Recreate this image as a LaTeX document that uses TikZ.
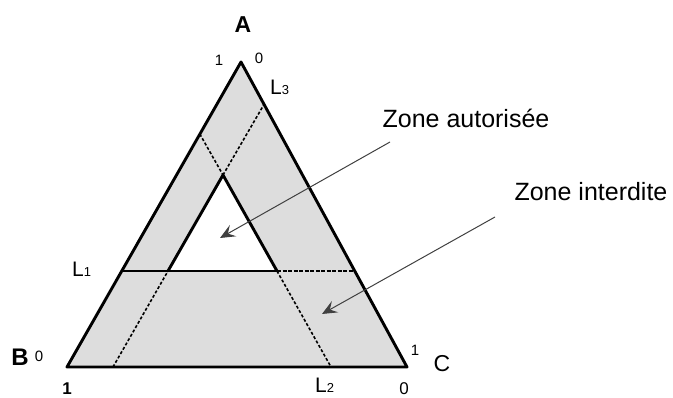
\documentclass[tikz,border=0pt]{standalone}
\usepackage{fontspec}
\setmainfont{Liberation Sans}
\usetikzlibrary{arrows.meta}
\begin{document}
\begin{tikzpicture}[x=1pt,y=-1pt,
  edge/.style={line width=2.9pt, line join=round, line cap=round},
  dashln/.style={line width=1.6pt, dash pattern=on 3pt off 2pt},
  l1dash/.style={line width=2.6pt, dash pattern=on 4pt off 1.5pt},
  pointer/.style={line width=1pt, draw=black!75, -{Stealth[length=15pt,width=13pt,inset=6pt]}},
  zlbl/.style={inner sep=0pt, font=\fontsize{25}{30}\selectfont},
  vlbl/.style={inner sep=0pt, font=\fontsize{23}{28}\selectfont},
  dlbl/.style={inner sep=0pt, font=\fontsize{15}{18}\selectfont},
  llbl/.style={inner sep=0pt, font=\fontsize{21}{24}\selectfont},
]
\useasboundingbox (0,0) rectangle (673,398);
% vertices
\coordinate (A) at (241,62);
\coordinate (B) at (67,367);
\coordinate (C) at (407,367);
\coordinate (P) at (121.8,271);
\coordinate (Q) at (354.8,271);
\coordinate (I) at (223,175);
\coordinate (IL) at (168,271);
\coordinate (IR) at (277,271);
\coordinate (D1b) at (113,367);
\coordinate (D1t) at (264.3,103.9);
\coordinate (D2b) at (331,367);
\coordinate (D2t) at (199.8,134);
% fills
\fill[gray!27] (A) -- (B) -- (C) -- cycle;
\fill[white] (I) -- (IL) -- (IR) -- cycle;
% dashed lines
\draw[dashln] (D1b) -- (IL);
\draw[dashln] (I) -- (D1t);
\draw[dashln] (D2t) -- (I);
\draw[dashln] (IR) -- (D2b);
\draw[l1dash] (IR) -- (Q);
% solid lines
\draw[edge] (A) -- (B) -- (C) -- cycle;
\draw[edge] (P) -- (IR);
\draw[edge] (IL) -- (I) -- (IR);
% labels
\node[vlbl, font=\fontsize{23}{28}\selectfont\bfseries] (la) at (243,25) {A};
\node[vlbl, font=\fontsize{24}{28}\selectfont\bfseries] (lb) at (20,357) {B};
\node[vlbl] (lc) at (442,364) {C};
\node[dlbl] (a1) at (219,60) {1};
\node[dlbl] (a0) at (259,58) {0};
\node[dlbl] (b0) at (39,356) {0};
\node[dlbl, font=\fontsize{17}{18}\selectfont\bfseries] (b1) at (67,389) {1};
\node[dlbl] (c1) at (415,350) {1};
\node[dlbl, font=\fontsize{17}{18}\selectfont] (c0) at (404,389) {0};
\node[llbl, anchor=base west] (l3) at (270,95) {L{\fontsize{13}{14}\selectfont 3}};
\node[llbl, anchor=base west] (l1) at (72,277) {L{\fontsize{13}{14}\selectfont 1}};
\node[llbl, anchor=base west] (l2) at (315,393) {L{\fontsize{13}{14}\selectfont 2}};
\node[zlbl] (za) at (466,118) {Zone autorisée};
\node[zlbl] (zi) at (591,192) {Zone interdite};
% pointers
\coordinate (t1) at (390,142);
\coordinate (h1) at (220,238);
\coordinate (t2) at (495,217);
\coordinate (h2) at (322,314);
\draw[pointer] (t1) -- (h1);
\draw[pointer] (t2) -- (h2);
\end{tikzpicture}
\end{document}
